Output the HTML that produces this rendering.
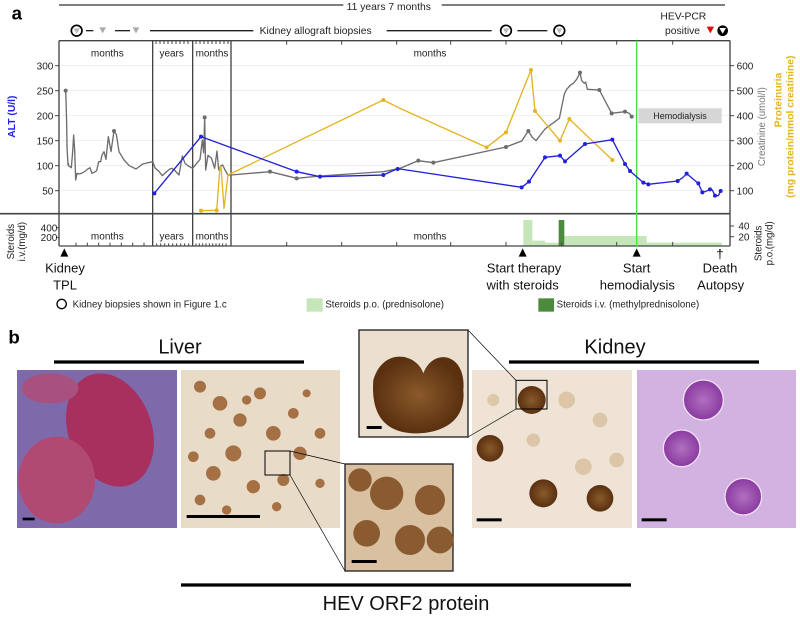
<!DOCTYPE html>
<html><head><meta charset="utf-8"><style>
html,body{margin:0;padding:0;background:#fff;width:800px;height:617px;overflow:hidden}
svg{display:block}
text{font-family:"Liberation Sans",Arial,sans-serif}
</style></head><body>
<svg width="800" height="617" viewBox="0 0 2400 1851" xmlns="http://www.w3.org/2000/svg">
<defs>
<radialGradient id="br" cx="50%" cy="50%" r="50%"><stop offset="0" stop-color="#8a5a2a"/><stop offset="1" stop-color="#5a3010"/></radialGradient>
<radialGradient id="pu" cx="50%" cy="50%" r="50%"><stop offset="0" stop-color="#b070c0"/><stop offset="1" stop-color="#8a3aa0"/></radialGradient>
<clipPath id="c1"><rect x="51" y="1110" width="480" height="474"/></clipPath>
</defs>
<!-- PANEL A -->
<text x="35" y="58" font-size="56" font-weight="bold">a</text>
<line x1="177" y1="15" x2="1030" y2="15" stroke="#333" stroke-width="4"/>
<text x="1040" y="30" font-size="31" fill="#222">11 years 7 months</text>
<line x1="1325" y1="15" x2="2175" y2="15" stroke="#333" stroke-width="4"/>
<!-- biopsy row -->
<circle cx="230" cy="92" r="16" fill="#fff" stroke="#000" stroke-width="5"/><path d="M220 85 L240 85 L230 102Z" fill="#bbb"/>
<line x1="258" y1="92" x2="280" y2="92" stroke="#222" stroke-width="4"/>
<path d="M298 82 L318 82 L308 100Z" fill="#aaa"/>
<line x1="345" y1="92" x2="390" y2="92" stroke="#222" stroke-width="4"/>
<path d="M398 82 L418 82 L408 100Z" fill="#aaa"/>
<line x1="450" y1="92" x2="760" y2="92" stroke="#222" stroke-width="4"/>
<text x="779" y="102" font-size="31" fill="#222">Kidney allograft biopsies</text>
<line x1="1160" y1="92" x2="1475" y2="92" stroke="#222" stroke-width="4"/>
<circle cx="1518" cy="92" r="16" fill="#fff" stroke="#000" stroke-width="5"/><path d="M1509 85 L1527 85 L1518 102Z" fill="#bbb"/>
<line x1="1552" y1="92" x2="1642" y2="92" stroke="#222" stroke-width="4"/>
<circle cx="1678" cy="92" r="16" fill="#fff" stroke="#000" stroke-width="5"/><path d="M1669 85 L1687 85 L1678 102Z" fill="#bbb"/>
<text x="2050" y="58" font-size="31" text-anchor="middle" fill="#222">HEV-PCR</text>
<text x="1995" y="102" font-size="31" fill="#222">positive</text>
<path d="M2120 80 L2142 80 L2131 100Z" fill="#e00"/>
<circle cx="2168" cy="92" r="16" fill="#000"/><path d="M2158 84 L2178 84 L2168 101Z" fill="#fff"/>
<!-- grid -->
<g stroke="#e6e6e6" stroke-width="2">
<line x1="180" y1="197" x2="2190" y2="197"/><line x1="180" y1="272" x2="2190" y2="272"/><line x1="180" y1="347" x2="2190" y2="347"/><line x1="180" y1="422" x2="2190" y2="422"/><line x1="180" y1="497" x2="2190" y2="497"/><line x1="180" y1="572" x2="2190" y2="572"/>
</g>
<rect x="1915" y="325" width="250" height="45" fill="#d6d6d6"/>
<text x="2040" y="357" font-size="27" text-anchor="middle" fill="#222">Hemodialysis</text>
<g fill="#c5e6b9">
<rect x="1570" y="660" width="27" height="78"/><rect x="1597" y="722" width="38" height="16"/><rect x="1635" y="728" width="43" height="10"/><rect x="1693" y="708" width="247" height="30"/><rect x="1940" y="728" width="225" height="10"/>
</g>
<rect x="1676" y="660" width="17" height="78" fill="#4c8a3c"/>
<g stroke="#444" stroke-width="4" fill="none">
<line x1="177" y1="122" x2="2190" y2="122"/>
<line x1="177" y1="122" x2="177" y2="738"/>
<line x1="2190" y1="122" x2="2190" y2="738"/>
<line x1="0" y1="641" x2="2190" y2="641" stroke-width="5"/>
<line x1="177" y1="738" x2="2190" y2="738"/>
<line x1="458" y1="122" x2="458" y2="738"/><line x1="578" y1="122" x2="578" y2="738"/><line x1="693" y1="122" x2="693" y2="738"/>
</g>
<g stroke="#444" stroke-width="3">
<line x1="860" y1="738" x2="860" y2="726"/><line x1="1025" y1="738" x2="1025" y2="726"/><line x1="1190" y1="738" x2="1190" y2="726"/><line x1="1352" y1="738" x2="1352" y2="726"/><line x1="1518" y1="738" x2="1518" y2="726"/><line x1="1685" y1="738" x2="1685" y2="726"/><line x1="1850" y1="738" x2="1850" y2="726"/><line x1="2018" y1="738" x2="2018" y2="726"/>
<line x1="228" y1="738" x2="228" y2="728"/><line x1="262" y1="738" x2="262" y2="728"/><line x1="296" y1="738" x2="296" y2="728"/><line x1="330" y1="738" x2="330" y2="728"/><line x1="364" y1="738" x2="364" y2="728"/><line x1="398" y1="738" x2="398" y2="728"/><line x1="432" y1="738" x2="432" y2="728"/>
<line x1="470" y1="738" x2="470" y2="730"/><line x1="482" y1="738" x2="482" y2="730"/><line x1="494" y1="738" x2="494" y2="730"/><line x1="506" y1="738" x2="506" y2="730"/><line x1="518" y1="738" x2="518" y2="730"/><line x1="530" y1="738" x2="530" y2="730"/><line x1="542" y1="738" x2="542" y2="730"/><line x1="554" y1="738" x2="554" y2="730"/><line x1="566" y1="738" x2="566" y2="730"/>
<line x1="588" y1="738" x2="588" y2="730"/><line x1="598" y1="738" x2="598" y2="730"/><line x1="608" y1="738" x2="608" y2="730"/><line x1="618" y1="738" x2="618" y2="730"/><line x1="628" y1="738" x2="628" y2="730"/><line x1="638" y1="738" x2="638" y2="730"/><line x1="648" y1="738" x2="648" y2="730"/><line x1="658" y1="738" x2="658" y2="730"/><line x1="668" y1="738" x2="668" y2="730"/><line x1="678" y1="738" x2="678" y2="730"/>
<line x1="468" y1="122" x2="468" y2="132"/><line x1="480" y1="122" x2="480" y2="132"/><line x1="492" y1="122" x2="492" y2="132"/><line x1="504" y1="122" x2="504" y2="132"/><line x1="516" y1="122" x2="516" y2="132"/><line x1="528" y1="122" x2="528" y2="132"/><line x1="540" y1="122" x2="540" y2="132"/><line x1="552" y1="122" x2="552" y2="132"/><line x1="564" y1="122" x2="564" y2="132"/>
<line x1="588" y1="122" x2="588" y2="132"/><line x1="600" y1="122" x2="600" y2="132"/><line x1="612" y1="122" x2="612" y2="132"/><line x1="624" y1="122" x2="624" y2="132"/><line x1="636" y1="122" x2="636" y2="132"/><line x1="648" y1="122" x2="648" y2="132"/><line x1="660" y1="122" x2="660" y2="132"/><line x1="672" y1="122" x2="672" y2="132"/><line x1="684" y1="122" x2="684" y2="132"/>
<line x1="860" y1="122" x2="860" y2="134"/><line x1="1025" y1="122" x2="1025" y2="134"/><line x1="1190" y1="122" x2="1190" y2="134"/><line x1="1352" y1="122" x2="1352" y2="134"/><line x1="1518" y1="122" x2="1518" y2="134"/><line x1="1685" y1="122" x2="1685" y2="134"/><line x1="1850" y1="122" x2="1850" y2="134"/><line x1="2018" y1="122" x2="2018" y2="134"/>
<line x1="165" y1="197" x2="177" y2="197"/><line x1="165" y1="272" x2="177" y2="272"/><line x1="165" y1="347" x2="177" y2="347"/><line x1="165" y1="422" x2="177" y2="422"/><line x1="165" y1="497" x2="177" y2="497"/><line x1="165" y1="572" x2="177" y2="572"/>
<line x1="2190" y1="197" x2="2202" y2="197"/><line x1="2190" y1="272" x2="2202" y2="272"/><line x1="2190" y1="347" x2="2202" y2="347"/><line x1="2190" y1="422" x2="2202" y2="422"/><line x1="2190" y1="497" x2="2202" y2="497"/><line x1="2190" y1="572" x2="2202" y2="572"/>
<line x1="2190" y1="678" x2="2202" y2="678"/><line x1="2190" y1="710" x2="2202" y2="710"/>
<line x1="177" y1="683" x2="168" y2="683"/><line x1="177" y1="712" x2="168" y2="712"/>
</g>
<g font-size="30" fill="#222" text-anchor="end">
<text x="160" y="208">300</text><text x="160" y="283">250</text><text x="160" y="358">200</text><text x="160" y="433">150</text><text x="160" y="508">100</text><text x="160" y="583">50</text>
<text x="172" y="694">400</text><text x="172" y="723">200</text>
</g>
<g font-size="30" fill="#222">
<text x="2210" y="208">600</text><text x="2210" y="283">500</text><text x="2210" y="358">400</text><text x="2210" y="433">300</text><text x="2210" y="508">200</text><text x="2210" y="583">100</text>
<text x="2215" y="689">40</text><text x="2215" y="721">20</text>
</g>
<g font-size="30" fill="#222" text-anchor="middle">
<text x="322" y="170">months</text><text x="515" y="170">years</text><text x="636" y="170">months</text><text x="1290" y="170">months</text>
<text x="322" y="718">months</text><text x="515" y="718">years</text><text x="636" y="718">months</text><text x="1290" y="718">months</text>
</g>
<text transform="translate(45,350) rotate(-90)" font-size="31" font-weight="bold" fill="#2222ee" text-anchor="middle">ALT (U/l)</text>
<text transform="translate(2295,380) rotate(-90)" font-size="29" fill="#777" text-anchor="middle">Creatinine (umol/l)</text>
<text transform="translate(2345,300) rotate(-90)" font-size="31" font-weight="bold" fill="#e6b322" text-anchor="middle">Proteinuria</text>
<text transform="translate(2380,380) rotate(-90)" font-size="31" font-weight="bold" fill="#e6b322" text-anchor="middle">(mg protein/mmol creatinine)</text>
<text transform="translate(42,725) rotate(-90)" font-size="29" fill="#222" text-anchor="middle">Steroids</text>
<text transform="translate(75,725) rotate(-90)" font-size="29" fill="#222" text-anchor="middle">i.v.(mg/d)</text>
<text transform="translate(2285,730) rotate(-90)" font-size="29" fill="#222" text-anchor="middle">Steroids</text>
<text transform="translate(2318,730) rotate(-90)" font-size="29" fill="#222" text-anchor="middle">p.o.(mg/d)</text>
<line x1="1910" y1="122" x2="1910" y2="740" stroke="#44e044" stroke-width="4"/>
<g fill="none" stroke-width="4" stroke-linejoin="round">
<polyline stroke="#6d6d6d" points="197,272 198,298 200,372 201,440 204,495 205,490 206,498 210,500 214,503 218,455 221,405 224,450 227,540 231,520 236,522 245,520 256,513 262,508 270,503 276,520 284,516 290,512 296,485 302,485 306,465 312,455 318,478 325,410 333,455 342,393 349,403 357,455 372,480 388,497 408,507 428,492 458,485 466,505 475,512 487,527 500,515 508,508 515,505 523,510 537,525 547,468 555,490 565,498 578,505 600,478 607,420 611,458 614,352 617,510 624,466 634,474 640,492 644,505 651,453 656,510 662,498 668,495 675,510 684,525 692,525 810,515 890,535 960,528 1150,515 1200,505 1255,482 1300,488 1518,441 1565,423 1585,393 1597,412 1608,422 1635,387 1678,355 1693,282 1700,268 1712,255 1720,250 1730,238 1740,218 1745,242 1753,250 1757,246 1762,268 1798,270 1835,340 1875,335 1888,340 1895,350"/>
<polyline stroke="#e6b322" points="603,632 650,631 660,500 663,500 672,625 684,525 1150,300 1200,325 1460,442 1518,397 1593,210 1605,333 1680,422 1708,357 1837,480"/>
<polyline stroke="#2020dd" points="463,580 603,410 890,515 960,530 1150,525 1190,507 1200,507 1565,562 1587,545 1635,472 1680,467 1695,484 1755,432 1837,419 1875,492 1890,513 1930,548 1945,553 2033,543 2048,533 2060,521 2095,550 2107,577 2118,574 2130,568 2137,570 2145,587 2155,587 2162,573"/>
</g>
<g fill="#6d6d6d"><circle cx="197" cy="272" r="6"/><circle cx="614" cy="352" r="6"/><circle cx="342" cy="393" r="6"/><circle cx="810" cy="515" r="6"/><circle cx="890" cy="535" r="6"/><circle cx="1255" cy="482" r="6"/><circle cx="1300" cy="488" r="6"/><circle cx="1518" cy="441" r="6"/><circle cx="1585" cy="393" r="6"/><circle cx="1740" cy="218" r="6"/><circle cx="1798" cy="270" r="6"/><circle cx="1835" cy="340" r="6"/><circle cx="1875" cy="335" r="6"/><circle cx="1895" cy="350" r="6"/></g>
<g fill="#e6b322"><circle cx="603" cy="632" r="6"/><circle cx="650" cy="631" r="6"/><circle cx="1150" cy="300" r="6"/><circle cx="1460" cy="442" r="6"/><circle cx="1518" cy="397" r="6"/><circle cx="1593" cy="210" r="6"/><circle cx="1605" cy="333" r="6"/><circle cx="1680" cy="422" r="6"/><circle cx="1708" cy="357" r="6"/><circle cx="1837" cy="480" r="6"/></g>
<g fill="#2020dd"><circle cx="463" cy="580" r="6"/><circle cx="603" cy="410" r="6"/><circle cx="890" cy="515" r="6"/><circle cx="960" cy="530" r="6"/><circle cx="1150" cy="525" r="6"/><circle cx="1193" cy="507" r="6"/><circle cx="1565" cy="562" r="6"/><circle cx="1587" cy="545" r="6"/><circle cx="1635" cy="472" r="6"/><circle cx="1680" cy="467" r="6"/><circle cx="1695" cy="484" r="6"/><circle cx="1755" cy="432" r="6"/><circle cx="1837" cy="419" r="6"/><circle cx="1875" cy="492" r="6"/><circle cx="1890" cy="513" r="6"/><circle cx="1930" cy="548" r="6"/><circle cx="1945" cy="553" r="6"/><circle cx="2033" cy="543" r="6"/><circle cx="2060" cy="521" r="6"/><circle cx="2095" cy="550" r="6"/><circle cx="2107" cy="577" r="6"/><circle cx="2130" cy="568" r="6"/><circle cx="2145" cy="587" r="6"/><circle cx="2162" cy="573" r="6"/></g>
<path d="M181 770 L205 770 L193 745Z" fill="#000"/>
<path d="M1556 770 L1580 770 L1568 745Z" fill="#000"/>
<path d="M1898 770 L1922 770 L1910 745Z" fill="#000"/>
<text x="2160" y="775" font-size="40" text-anchor="middle">†</text>
<g font-size="39" fill="#111" text-anchor="middle">
<text x="195" y="818">Kidney</text><text x="195" y="868">TPL</text>
<text x="1572" y="818">Start therapy</text><text x="1568" y="868">with steroids</text>
<text x="1910" y="818">Start</text><text x="1912" y="868">hemodialysis</text>
<text x="2160" y="818">Death</text><text x="2162" y="868">Autopsy</text>
</g>
<circle cx="185" cy="912" r="14" fill="none" stroke="#000" stroke-width="4"/>
<text x="218" y="922" font-size="29" fill="#222">Kidney biopsies shown in Figure 1.c</text>
<rect x="920" y="895" width="48" height="40" fill="#c5e6b9"/>
<text x="976" y="922" font-size="29" fill="#222">Steroids p.o. (prednisolone)</text>
<rect x="1615" y="895" width="47" height="40" fill="#4c8a3c"/>
<text x="1670" y="922" font-size="29" fill="#222">Steroids i.v. (methylprednisolone)</text>

<!-- PANEL B -->
<text x="25" y="1030" font-size="56" font-weight="bold">b</text>
<text x="540" y="1060" font-size="60" text-anchor="middle" fill="#111">Liver</text>
<line x1="162" y1="1086" x2="912" y2="1086" stroke="#000" stroke-width="10"/>
<text x="1845" y="1060" font-size="60" text-anchor="middle" fill="#111">Kidney</text>
<line x1="1527" y1="1086" x2="2277" y2="1086" stroke="#000" stroke-width="10"/>
<rect x="51" y="1110" width="480" height="474" fill="#7e6aaa"/>
<g clip-path="url(#c1)">
<ellipse cx="330" cy="1290" rx="125" ry="175" fill="#a8305e" transform="rotate(-20 330 1290)"/>
<ellipse cx="170" cy="1440" rx="115" ry="130" fill="#b04a72"/>
<ellipse cx="150" cy="1165" rx="85" ry="45" fill="#a85080"/>
</g>
<rect x="68" y="1553" width="36" height="8" fill="#000"/>
<rect x="543" y="1110" width="477" height="474" fill="#e8dcc8"/>
<g fill="#9a5e2e" opacity="0.85">
<circle cx="600" cy="1160" r="18"/><circle cx="660" cy="1210" r="22"/><circle cx="720" cy="1260" r="20"/><circle cx="630" cy="1300" r="16"/><circle cx="780" cy="1180" r="18"/><circle cx="820" cy="1300" r="22"/><circle cx="700" cy="1360" r="24"/><circle cx="880" cy="1240" r="16"/><circle cx="900" cy="1360" r="20"/><circle cx="640" cy="1420" r="22"/><circle cx="760" cy="1460" r="20"/><circle cx="850" cy="1440" r="18"/><circle cx="960" cy="1300" r="16"/><circle cx="600" cy="1500" r="16"/><circle cx="960" cy="1450" r="14"/><circle cx="740" cy="1200" r="14"/><circle cx="680" cy="1530" r="14"/><circle cx="830" cy="1520" r="14"/><circle cx="580" cy="1370" r="16"/><circle cx="920" cy="1180" r="12"/>
</g>
<rect x="560" y="1545" width="220" height="9" fill="#000"/>
<rect x="795" y="1353" width="75" height="72" fill="none" stroke="#000" stroke-width="3"/>
<line x1="870" y1="1353" x2="1035" y2="1392" stroke="#000" stroke-width="2"/>
<line x1="870" y1="1425" x2="1035" y2="1713" stroke="#000" stroke-width="2"/>
<rect x="1416" y="1110" width="480" height="474" fill="#eee3d4"/>
<g fill="#d9bf9c" opacity="0.8"><circle cx="1700" cy="1200" r="25"/><circle cx="1800" cy="1260" r="22"/><circle cx="1750" cy="1400" r="25"/><circle cx="1850" cy="1380" r="22"/><circle cx="1480" cy="1200" r="18"/><circle cx="1600" cy="1320" r="20"/></g>
<g fill="url(#br)"><circle cx="1595" cy="1200" r="42"/><circle cx="1470" cy="1345" r="40"/><circle cx="1630" cy="1480" r="42"/><circle cx="1800" cy="1495" r="40"/></g>
<rect x="1430" y="1555" width="75" height="9" fill="#000"/>
<rect x="1548" y="1141" width="93" height="86" fill="none" stroke="#000" stroke-width="3"/>
<line x1="1548" y1="1141" x2="1404" y2="990" stroke="#000" stroke-width="2"/>
<line x1="1548" y1="1227" x2="1404" y2="1311" stroke="#000" stroke-width="2"/>
<rect x="1911" y="1110" width="477" height="474" fill="#d2b2e0"/>
<g fill="url(#pu)" stroke="#f0e0f4" stroke-width="4"><circle cx="2110" cy="1200" r="60"/><circle cx="2045" cy="1345" r="55"/><circle cx="2230" cy="1490" r="55"/></g>
<rect x="1925" y="1555" width="75" height="9" fill="#000"/>
<rect x="1077" y="990" width="327" height="321" fill="#ebe0d0" stroke="#222" stroke-width="4"/>
<path d="M1120 1140 C1150 1040 1250 1060 1270 1120 C1300 1040 1400 1060 1390 1170 C1400 1280 1300 1300 1250 1300 C1180 1300 1110 1270 1120 1140Z" fill="url(#br)"/>
<rect x="1100" y="1278" width="45" height="9" fill="#000"/>
<rect x="1035" y="1392" width="324" height="321" fill="#d8c0a0" stroke="#222" stroke-width="4"/>
<g fill="#8a5a30"><circle cx="1080" cy="1440" r="35"/><circle cx="1160" cy="1480" r="50"/><circle cx="1290" cy="1500" r="45"/><circle cx="1100" cy="1600" r="40"/><circle cx="1230" cy="1620" r="45"/><circle cx="1320" cy="1620" r="40"/></g>
<rect x="1055" y="1680" width="75" height="9" fill="#000"/>
<line x1="543" y1="1755" x2="1893" y2="1755" stroke="#000" stroke-width="10"/>
<text x="1218" y="1830" font-size="60" text-anchor="middle" fill="#111">HEV ORF2 protein</text>
</svg>
</body></html>
